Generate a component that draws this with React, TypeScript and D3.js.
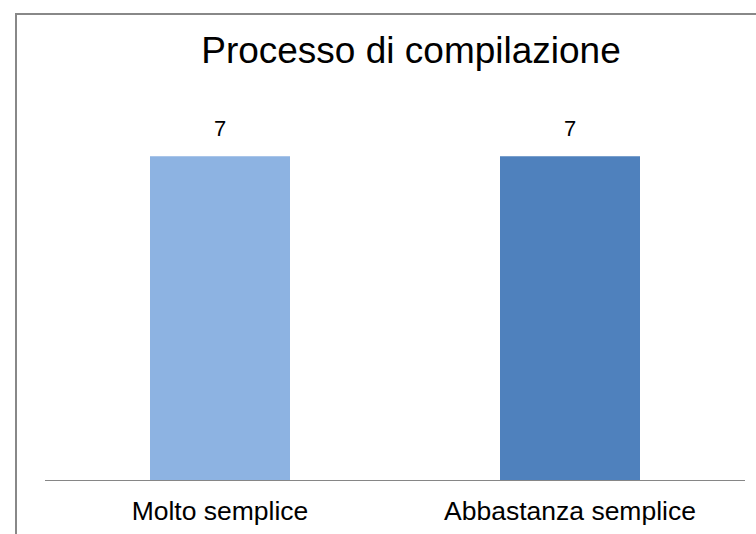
import React from "react";
import * as d3 from "d3";

const categories = ["Molto semplice", "Abbastanza semplice"];
const values = [7, 7];
const colors = ["#8DB3E2", "#4F81BD"];
const title = "Processo di compilazione";

export default function App() {
  const W = 756, H = 534;
  const x = d3.scaleBand<string>().domain(categories).range([45, 745]).paddingInner(0).paddingOuter(0);
  const y = d3.scaleLinear().domain([0, 8]).range([480, 110]);
  const bw = x.bandwidth() * 0.4;
  const font = "'Liberation Sans', Arial, sans-serif";
  return (
    <svg width={W} height={H} style={{ position: "absolute", left: 0, top: 0, background: "#fff" }}>
      <rect x={16} y={14} width={W + 10} height={H + 10} fill="#fff" stroke="#888" strokeWidth={2} />
      <text x={411} y={63} textAnchor="middle" fontFamily={font} fontSize={37} fill="#000">{title}</text>
      {categories.map((c, i) => {
        const cx = x(c)! + x.bandwidth() / 2;
        return (
          <g key={c}>
            <rect x={cx - bw / 2} y={y(values[i])} width={bw} height={y(0) - y(values[i])} fill={colors[i]} />
            <text x={cx} y={y(values[i]) - 20} textAnchor="middle" fontFamily={font} fontSize={22} fill="#000">{values[i]}</text>
            <text x={cx} y={520} textAnchor="middle" fontFamily={font} fontSize={26.5} fill="#000">{c}</text>
          </g>
        );
      })}
      <line x1={45} x2={745} y1={480.5} y2={480.5} stroke="#868686" strokeWidth={1} />
    </svg>
  );
}
